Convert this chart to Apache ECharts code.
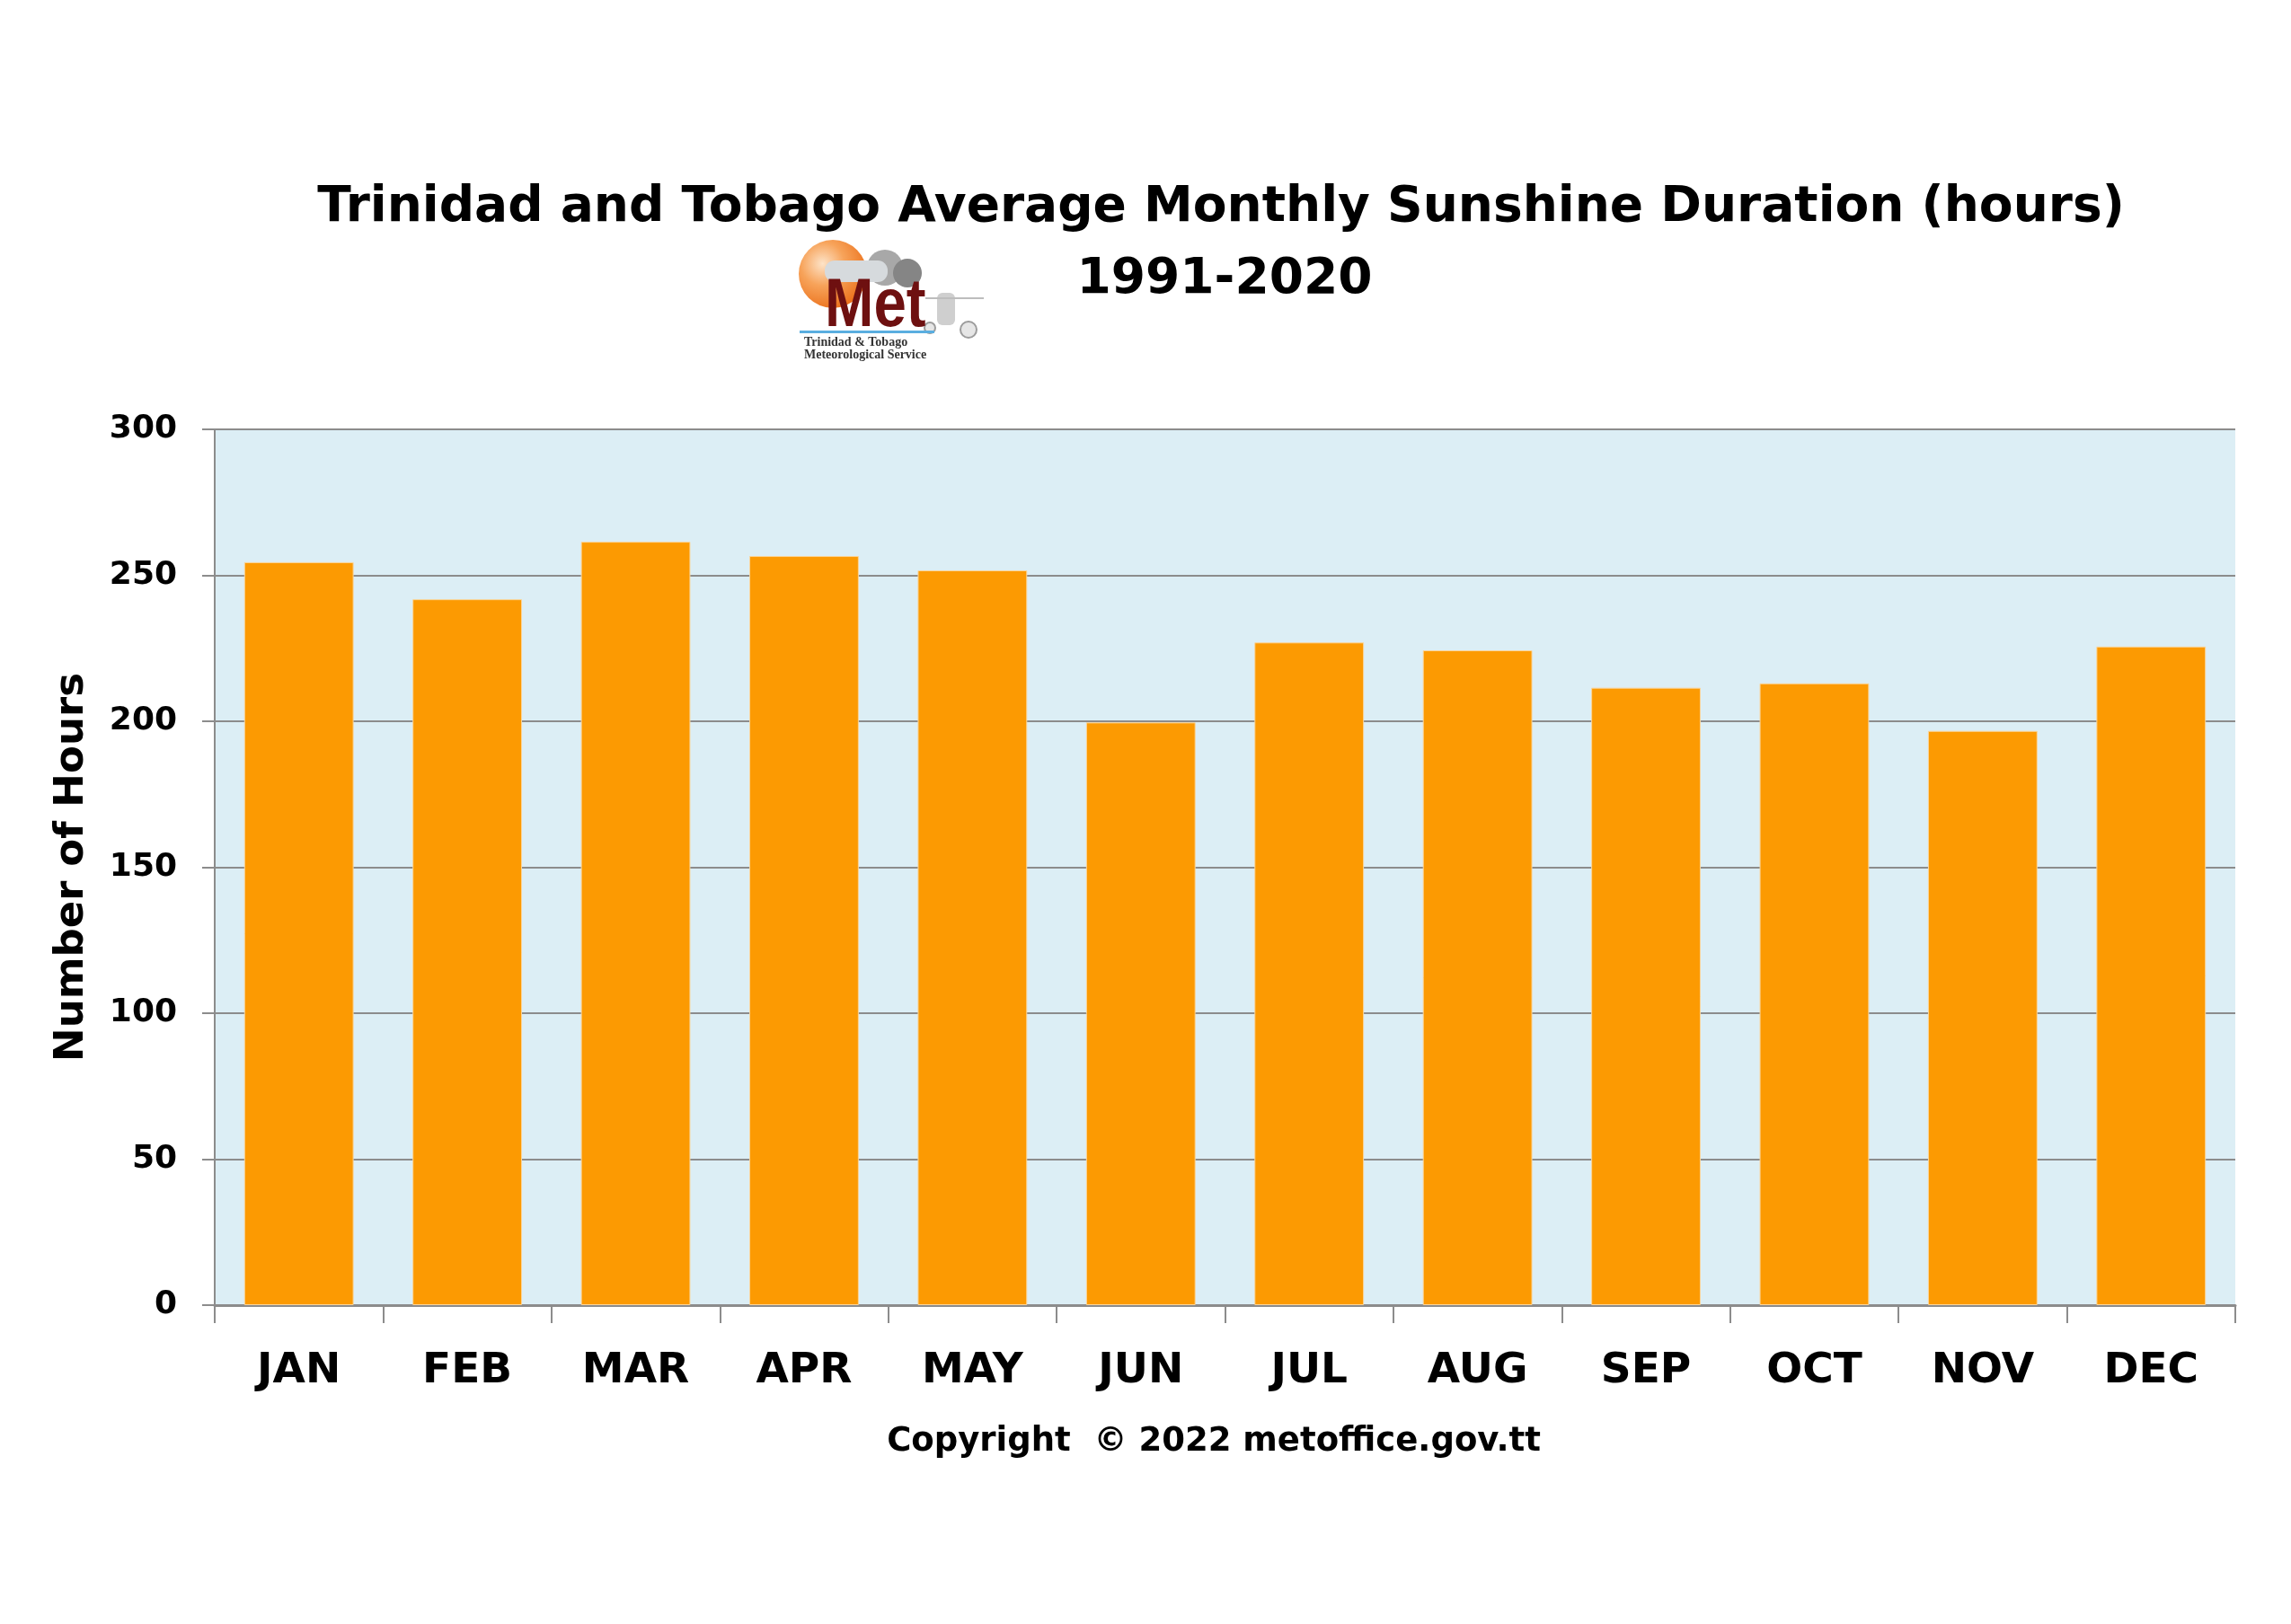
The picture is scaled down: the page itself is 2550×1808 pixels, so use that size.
<!DOCTYPE html>
<html>
<head>
<meta charset="utf-8">
<script src="https://cdn.jsdelivr.net/npm/echarts@6/dist/echarts.min.js"></script>
<style>html,body{margin:0;padding:0;background:#fff}#c{width:2550px;height:1808px}</style>
</head>
<body>
<div id="c"></div>
<script>
const months = ['JAN','FEB','MAR','APR','MAY','JUN','JUL','AUG','SEP','OCT','NOV','DEC'];
const sunshineHours = [254.5, 241.8, 261.5, 256.6, 251.7, 199.6, 227.0, 224.3, 211.5, 213.0, 196.7, 225.6];
const yTicks = [0, 50, 100, 150, 200, 250, 300];
const titleLine1 = 'Trinidad and Tobago Average Monthly Sunshine Duration (hours)';
const titleLine2 = '1991-2020';
const yAxisName = 'Number of Hours';
const copyrightText = 'Copyright  \u00A9 2022 metoffice.gov.tt';

const FONT = '"DejaVu Sans", Verdana, sans-serif';
const chart = echarts.init(document.getElementById('c'), null, {renderer: 'canvas'});
chart.setOption({
  animation: false,
  backgroundColor: '#ffffff',
  title: [
    {text: titleLine1, left: 1354, top: 199, textAlign: 'center',
     textStyle: {fontFamily: FONT, fontWeight: 'bold', fontSize: 55, color: '#000'}},
    {text: titleLine2, left: 1358, top: 279, textAlign: 'center',
     textStyle: {fontFamily: FONT, fontWeight: 'bold', fontSize: 55, color: '#000'}},
    {text: copyrightText, left: 1346, top: 1582, textAlign: 'center',
     textStyle: {fontFamily: FONT, fontWeight: 'bold', fontSize: 37, color: '#000'}}
  ],
  grid: {left: 239, right: 62, top: 478, bottom: 355, show: true,
         backgroundColor: '#dceef5', borderWidth: 0},
  xAxis: {
    type: 'category', data: months,
    axisLine: {show: true, lineStyle: {color: '#8c8c8c', width: 3}},
    axisTick: {show: true, length: 20, lineStyle: {color: '#8c8c8c', width: 2}},
    axisLabel: {margin: 50, color: '#000', fontFamily: FONT, fontWeight: 'bold', fontSize: 47}
  },
  yAxis: {
    type: 'value', min: 0, max: 300, interval: 50,
    name: yAxisName, nameLocation: 'middle', nameRotate: 90, nameGap: 136,
    nameTextStyle: {color: '#000', fontFamily: FONT, fontWeight: 'bold', fontSize: 45},
    axisLine: {show: true, lineStyle: {color: '#8c8c8c', width: 2}},
    axisTick: {show: true, inside: false, length: 14, lineStyle: {color: '#8c8c8c', width: 2}},
    axisLabel: {margin: 42, color: '#000', fontFamily: FONT, fontWeight: 'bold', fontSize: 36,
                customValues: yTicks},
    splitLine: {show: true, lineStyle: {color: '#8c8c8c', width: 2}}
  },
  graphic: [
    // Met Service logo (approximate)
    {type: 'circle', shape: {cx: 927, cy: 305, r: 38}, z: 10,
     style: {fill: new echarts.graphic.RadialGradient(0.35, 0.35, 0.8, [
       {offset: 0, color: '#fde3c8'}, {offset: 0.4, color: '#f7a35a'}, {offset: 1, color: '#e8630a'}])}},
    {type: 'circle', shape: {cx: 985, cy: 298, r: 20}, z: 11, style: {fill: '#a8a8a8'}},
    {type: 'circle', shape: {cx: 1010, cy: 304, r: 16}, z: 11, style: {fill: '#858585'}},
    {type: 'rect', shape: {x: 918, y: 290, width: 70, height: 24, r: 11}, z: 11, style: {fill: '#d6dadd'}},
    {type: 'text', x: 918, y: 304, z: 12, scaleX: 0.86,
     style: {text: 'Met', font: 'bold 76px "Liberation Sans", sans-serif', fill: '#6e1010'}},
    {type: 'rect', shape: {x: 1043, y: 326, width: 20, height: 36, r: 6}, z: 11, style: {fill: '#cfcfcf'}},
    {type: 'line', shape: {x1: 1030, y1: 332, x2: 1095, y2: 332}, z: 11, style: {stroke: '#bdbdbd', lineWidth: 2}},
    {type: 'circle', shape: {cx: 1078, cy: 367, r: 9}, z: 11, style: {fill: '#e6e6e6', stroke: '#9c9c9c', lineWidth: 2}},
    {type: 'circle', shape: {cx: 1035, cy: 365, r: 6}, z: 11, style: {fill: '#e6e6e6', stroke: '#9c9c9c', lineWidth: 2}},
    {type: 'rect', shape: {x: 890, y: 368, width: 150, height: 3}, z: 11, style: {fill: '#5aaee0'}},
    {type: 'text', x: 895, y: 374, z: 12,
     style: {text: 'Trinidad & Tobago', font: 'bold 14px "Liberation Serif", serif', fill: '#333'}},
    {type: 'text', x: 895, y: 388, z: 12,
     style: {text: 'Meteorological Service', font: 'bold 14px "Liberation Serif", serif', fill: '#333'}}
  ],
  series: [{
    type: 'bar', data: sunshineHours, barCategoryGap: '35%',
    itemStyle: {color: '#fc9a02', borderColor: '#fbd59a', borderWidth: 1}
  }]
});
</script>
</body>
</html>
